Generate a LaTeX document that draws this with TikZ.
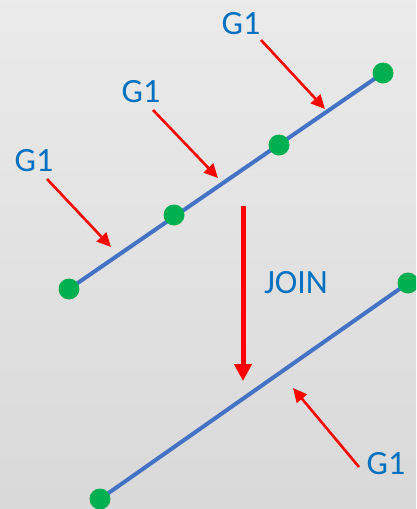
\documentclass[tikz,border=0pt]{standalone}
\usepackage{fontspec}
\setmainfont{Carlito}
\usetikzlibrary{arrows.meta}

\definecolor{lineblue}{HTML}{4472C4}
\definecolor{textblue}{HTML}{0070C0}
\definecolor{dotgreen}{HTML}{00B050}

\tikzset{
    seg/.style={lineblue, line width=4pt},
    dot/.style={circle, fill=dotgreen, inner sep=0pt, minimum size=21pt},
    lbl/.style={textblue, font=\fontsize{34}{40}\selectfont, inner sep=0pt},
    marker/.style={red, line width=2.6pt, -{Triangle[length=14pt,width=13pt]}},
    joinarrow/.style={red, line width=5pt, -{Triangle[length=17pt,width=17pt]}}
}

\begin{document}
\begin{tikzpicture}[x=1pt,y=-1pt]
    % Background
    \shade[top color=white!92!black, bottom color=white!85!black] (0,0) rectangle (416,509);
    \useasboundingbox (0,0) rectangle (416,509);
    \clip (0,0) rectangle (416,509);

    % Upper segment and its points
    \coordinate (A) at (69,289);
    \coordinate (B) at (174,215);
    \coordinate (C) at (279,145);
    \coordinate (D) at (383,73);
    \draw[seg] (A) -- (D);
    \foreach \p in {A,B,C,D}
        \node[dot] at (\p) {};

    % Lower segment after the join
    \coordinate (E) at (100,499);
    \coordinate (F) at (408,283);
    \draw[seg] (E) -- (F);
    \node[dot] at (E) {};
    \node[dot] at (F) {};

    % Labels
    \node[lbl] (g1a) at (34,161) {G1};
    \node[lbl] (g1b) at (141,92) {G1};
    \node[lbl] (g1c) at (241,24) {G1};
    \node[lbl] (g1d) at (386,464) {G1};
    \node[lbl] (join) at (296,283) {JOIN};

    % Arrows onto the pieces
    \coordinate (ta) at (47,179);  \coordinate (ha) at (111,247);
    \coordinate (tb) at (153,110); \coordinate (hb) at (218,178);
    \coordinate (tc) at (261,40);  \coordinate (hc) at (325,109);
    \coordinate (td) at (359,467); \coordinate (hd) at (293,388);
    \draw[marker] (ta) -- (ha);
    \draw[marker] (tb) -- (hb);
    \draw[marker] (tc) -- (hc);
    \draw[marker] (td) -- (hd);

    % Join arrow
    \coordinate (jtop) at (243,206);
    \coordinate (jbot) at (243,381);
    \draw[joinarrow] (jtop) -- (jbot);
\end{tikzpicture}
\end{document}
